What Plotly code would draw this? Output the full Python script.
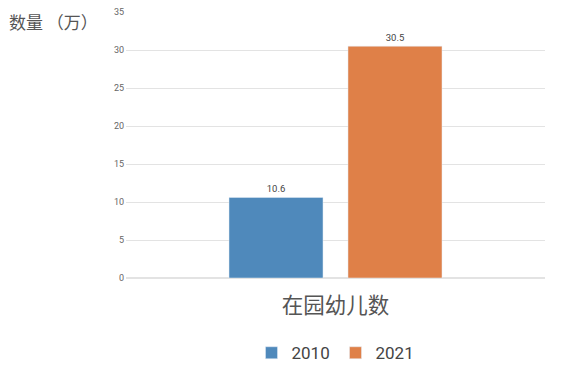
import plotly.graph_objects as go

categories = ["在园幼儿数"]
years = ["2010", "2021"]
values_2010 = [10.6]
values_2021 = [30.5]
colors = ["#4f89bb", "#df8048"]

fig = go.Figure()
for name, vals, col in zip(years, [values_2010, values_2021], colors):
    fig.add_trace(go.Bar(
        x=categories, y=vals, name=name, marker_color=col,
        text=vals, texttemplate="%{y}", textposition="outside",
        textfont=dict(size=9.5, color="#444"), cliponaxis=False,
    ))

fig.update_layout(
    width=571, height=360,
    margin=dict(l=118, r=34, t=4, b=90, autoexpand=False),
    paper_bgcolor="white", plot_bgcolor="white",
    barmode="group", bargap=0.432, bargroupgap=0.21,
    font=dict(family="Roboto, Noto Sans CJK SC, sans-serif", color="#555"),
    showlegend=True,
    legend=dict(orientation="h", x=0.5, xanchor="center", y=-0.215, yanchor="top",
                font=dict(size=17, color="#444"), itemwidth=30,
                entrywidth=39, entrywidthmode="pixels"),
    xaxis=dict(tickfont=dict(size=21.5, color="#555", family="Noto Sans CJK SC"),
               showline=False, showgrid=False, automargin=False,
               ticks="outside", ticklen=8, tickcolor="rgba(0,0,0,0)"),
    yaxis=dict(range=[0, 35], dtick=5, showgrid=True, gridcolor="#e3e3e3",
               ticks="", automargin=False, ticklabeloverflow="allow",
               ticklabelstandoff=1,
               tickfont=dict(size=9, color="#666"), zeroline=True,
               zerolinecolor="#e3e3e3", showline=False),
    annotations=[dict(text="数量 （万）", xref="paper", yref="paper", x=-0.282, y=1.015,
                      xanchor="left", yanchor="top", showarrow=False, borderpad=0,
                      font=dict(size=17, color="#555", family="Noto Sans CJK SC"))],
)

fig.write_html("out.html")
